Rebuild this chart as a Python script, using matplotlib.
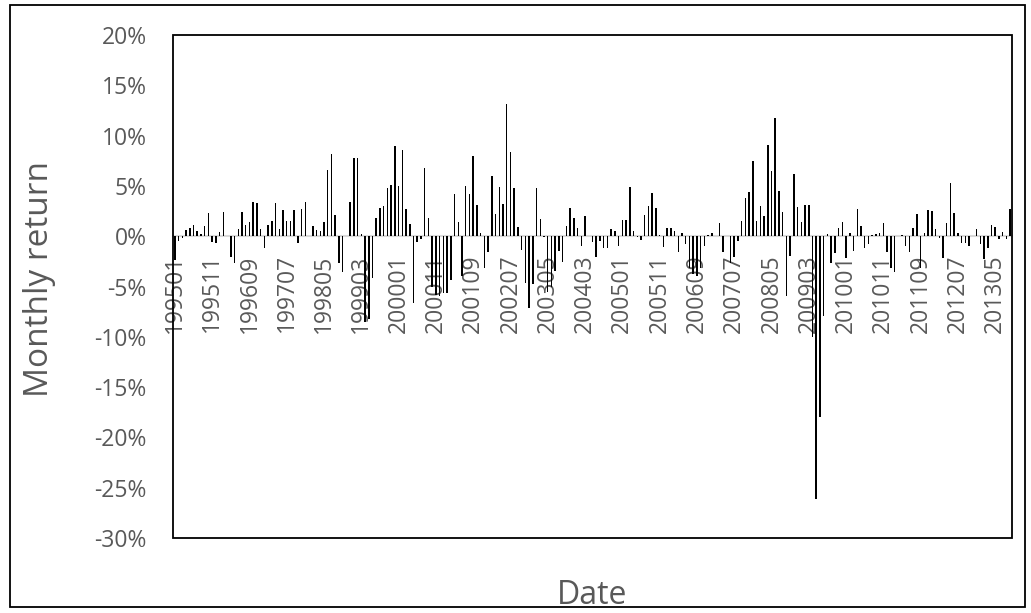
import matplotlib
matplotlib.use("Agg")
import matplotlib.pyplot as plt
from matplotlib.patches import Rectangle
from matplotlib.ticker import FuncFormatter

# ---- data (monthly returns in %, Jan 1995 .. Sep 2013) ----
years = list(range(1995, 2014))
months = [f"{y}{m:02d}" for y in years for m in range(1, 13)][:225]

returns = [
    -2.4, -0.5, -0.2, 0.6, 0.8, 1.1, 0.5, 0.2, 1.0, 2.3, -0.6, -0.7,
    0.4, 2.4, 0.05, -2.1, -2.7, 0.7, 2.4, 1.1, 1.4, 3.4, 3.3, 0.7,
    -1.2, 1.1, 1.5, 3.3, 0.7, 2.6, 1.5, 1.5, 2.6, -0.7, 2.7, 3.4,
    0.0, 1.0, 0.6, 0.5, 1.4, 6.6, 8.2, 2.1, -2.7, -3.6, 0.0, 3.4,
    7.8, 7.8, 0.2, -8.5, -8.2, -4.2, 1.8, 2.8, 3.0, 4.8, 5.1, 9.0,
    5.0, 8.6, 2.7, 1.2, -6.6, -0.6, -0.3, 6.8, 1.8, -5.0, -5.8, -5.9,
    -5.6, -5.6, -4.4, 4.2, 1.4, -4.0, 5.0, 4.2, 8.0, 3.1, 0.3, -3.2,
    -1.6, 6.0, 2.2, 4.9, 3.2, 13.1, 8.4, 4.8, 0.9, -1.4, -4.7, -7.1,
    -4.8, 4.8, 1.7, -0.1, -5.5, -5.0, -3.5, -1.5, -2.6, 1.0, 2.8, 1.8,
    0.8, -1.0, 2.0, 0.0, -0.6, -2.1, -0.5, -1.2, -1.2, 0.7, 0.5, -1.0,
    1.6, 1.6, 4.9, 0.5, -0.1, -0.4, 2.1, 3.0, 4.3, 2.8, 0.1, -1.1,
    0.8, 0.8, 0.5, -1.6, 0.3, -0.8, -3.2, -3.8, -4.0, -3.2, -1.0, 0.1,
    0.3, 0.0, 1.3, -1.6, 0.0, -2.7, -2.1, -0.5, 1.5, 3.8, 4.4, 7.5,
    1.5, 3.0, 2.0, 9.1, 6.5, 11.7, 4.5, 2.4, -5.9, -2.0, 6.2, 2.9,
    1.4, 3.1, 3.1, -10.0, -26.1, -18.0, -7.9, 0.2, -2.7, -1.7, 0.8, 1.4,
    -2.2, 0.3, -1.5, 2.7, 1.0, -1.2, -0.8, 0.1, 0.2, 0.3, 1.3, -1.6,
    -3.2, -3.6, 0.0, 0.1, -1.0, -1.6, 0.8, 2.2, -3.2, 0.3, 2.6, 2.5,
    0.7, -0.2, -2.2, 1.3, 5.3, 2.3, 0.3, -0.7, -0.7, -1.0, 0.0, 0.7,
    -0.8, -2.3, -1.2, 1.1, 0.9, -0.3, 0.4, -0.3, 2.7,
]

tick_labels = ["199501", "199511", "199609", "199707", "199805", "199903",
               "200001", "200011", "200109", "200207", "200305", "200403",
               "200501", "200511", "200609", "200707", "200805", "200903",
               "201001", "201011", "201109", "201207", "201305"]

y_ticks = [20, 15, 10, 5, 0, -5, -10, -15, -20, -25, -30]

# ---- figure ----
plt.rcParams['font.family'] = ['Open Sans', 'DejaVu Sans']
W, H = 1031, 613
fig = plt.figure(figsize=(W / 100, H / 100), dpi=100)
L, R, T, B = 173, 1012, 35, 538
ax = fig.add_axes([L / W, 1 - B / H, (R - L) / W, (B - T) / H])

x = list(range(len(returns)))
ax.bar(x, returns, width=0.4, color='black', zorder=2)

ax.set_xlim(-0.5, len(returns) - 0.5)
ax.set_ylim(-30, 20)

for s in ['top', 'left', 'right']:
    ax.spines[s].set_visible(False)
ax.spines['bottom'].set_position(('data', 0))
ax.spines['bottom'].set_color('#d9d9d9')
ax.spines['bottom'].set_linewidth(1.5)
ax.spines['bottom'].set_zorder(1)

txt_color = '#595959'
ax.set_yticks(y_ticks)
ax.yaxis.set_major_formatter(FuncFormatter(lambda v, p: f"{int(round(v))}%"))
ax.tick_params(axis='y', length=0, pad=19, labelsize=16.5, labelcolor=txt_color)

tick_pos = [months.index(t) for t in tick_labels]
ax.set_xticks(tick_pos)
ax.set_xticklabels(tick_labels)
ax.tick_params(axis='x', length=0, pad=13, labelsize=16.5, labelcolor=txt_color,
               labelrotation=90)

# plot-area frame
ax.add_patch(Rectangle((0, 0), 1, 1, transform=ax.transAxes, fill=False,
                       edgecolor='black', linewidth=1.3, clip_on=False, zorder=5))

ax.set_ylabel("Monthly return", fontsize=24, color=txt_color, va='center')
ax.yaxis.set_label_coords((40 - L) / (R - L), 0.515)
ax.set_xlabel("Date", fontsize=23, color=txt_color, va='center')
ax.xaxis.set_label_coords(0.5, (B - 596) / (B - T))

# outer chart border
fig.patches.append(Rectangle((10 / W, 1 - 607 / H), (1025 - 10) / W, (607 - 5) / H,
                             transform=fig.transFigure, fill=False,
                             edgecolor='black', linewidth=1.3))

fig.savefig("out.png", dpi=100)
